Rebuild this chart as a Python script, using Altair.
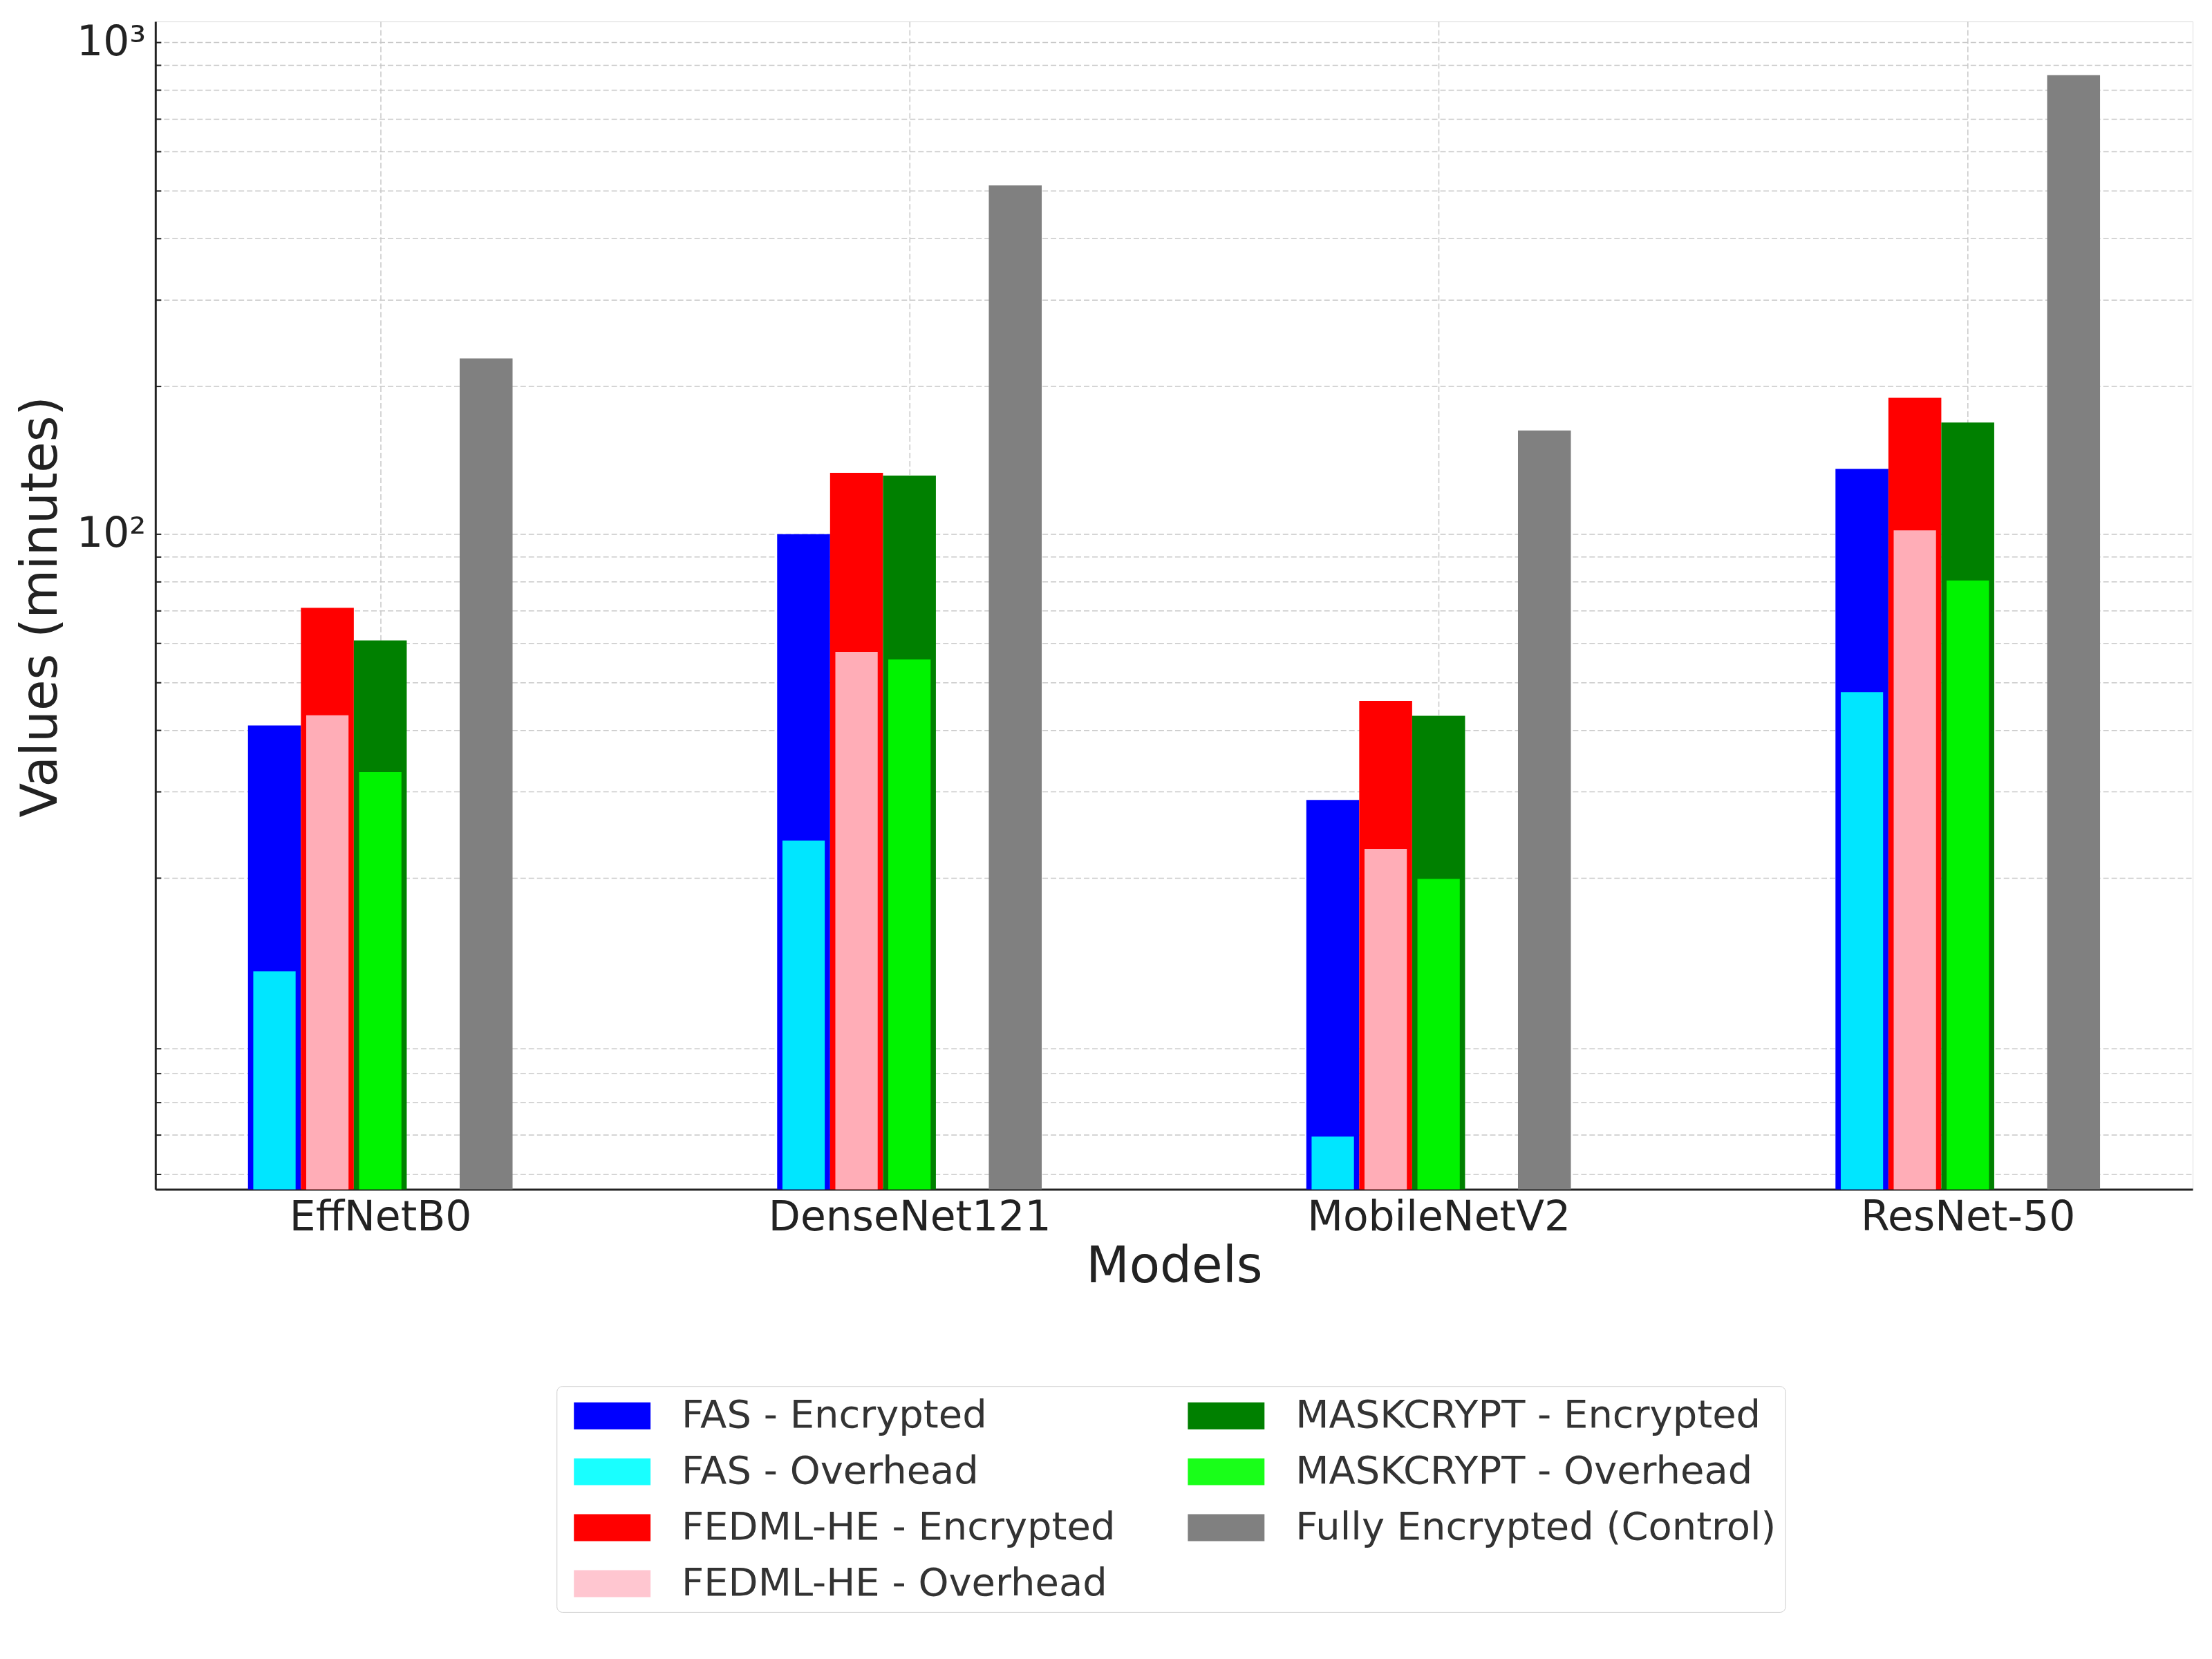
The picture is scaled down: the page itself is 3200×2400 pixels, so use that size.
import altair as alt
import pandas as pd

# ---- data ----
models = ["EffNetB0", "DenseNet121", "MobileNetV2", "ResNet-50"]
fas_encrypted = [40.8, 100.0, 28.8, 135.7]
fas_overhead = [12.9, 23.8, 5.95, 47.7]
fedml_encrypted = [70.8, 133.2, 45.8, 189.3]
fedml_overhead = [42.8, 57.6, 22.9, 101.8]
mask_encrypted = [60.8, 131.5, 42.7, 168.6]
mask_overhead = [32.8, 55.6, 19.9, 80.5]
fully_encrypted = [227.6, 511.7, 162.5, 857.9]

y_tick_values = [5, 6, 7, 8, 9, 20, 30, 40, 50, 60, 70, 80, 90,
                 100, 200, 300, 400, 500, 600, 700, 800, 900, 1000]

# series: name, values, group offset, bar width, opacity (draw order)
series = [
    ("FAS - Encrypted", fas_encrypted, -0.2, 0.1, 1.0),
    ("FAS - Overhead", fas_overhead, -0.2, 0.08, 0.9),
    ("FEDML-HE - Encrypted", fedml_encrypted, -0.1, 0.1, 1.0),
    ("FEDML-HE - Overhead", fedml_overhead, -0.1, 0.08, 0.9),
    ("MASKCRYPT - Encrypted", mask_encrypted, 0.0, 0.1, 1.0),
    ("MASKCRYPT - Overhead", mask_overhead, 0.0, 0.08, 0.9),
    ("Fully Encrypted (Control)", fully_encrypted, 0.2, 0.1, 1.0),
]

legend_order = [s[0] for s in series]
legend_colors = ["#0000ff", "#00ffff", "#ff0000", "#ffc0cb",
                 "#008000", "#00ff00", "#808080"]

rows = []
for name, vals, off, w, op in series:
    for i, m in enumerate(models):
        rows.append({"model": m, "series": name, "value": vals[i],
                     "x0": i + off - w / 2, "x1": i + off + w / 2, "op": op})
df = pd.DataFrame(rows)

Y_MIN, Y_MAX = 4.65, 1103
FONT = "DejaVu Sans"
label_expr = "[" + ",".join("'%s'" % m for m in models) + "][datum.value]"

legend_kw = dict(
    orient="none", legendX=581, legendY=1976, columns=2, title=None,
    symbolType="M-0.6,-0.65L3.1,-0.65L3.1,0.65L-0.6,0.65Z", symbolSize=3600,
    symbolStrokeWidth=0, labelFontSize=56, labelFont=FONT,
    labelColor="#333333", labelOffset=108, columnPadding=92, rowPadding=23,
    padding=13, strokeColor="#cccccc", cornerRadius=8, fillColor="white",
    labelLimit=1200,
    symbolOpacity={"expr": "test(/Overhead/, datum.value) ? 0.9 : 1"},
)

chart = alt.Chart(df).mark_bar(strokeWidth=0).encode(
    x=alt.X("x0:Q",
            scale=alt.Scale(domain=[-0.425, 3.425], nice=False, zero=False),
            axis=alt.Axis(values=[0, 1, 2, 3], labelExpr=label_expr,
                          title="Models", titleFontSize=72.5, titleFont=FONT,
                          titleFontWeight="normal", titleColor="#222222",
                          titleBaseline="alphabetic", titleY=134,
                          labelFontSize=60, labelFont=FONT, labelColor="#222222",
                          labelBaseline="alphabetic", labelPadding=67,
                          labelLimit=1000,
                          tickSize={"expr": "-8"}, tickColor="#222222", tickWidth=2,
                          domainColor="#222222", domainWidth=3,
                          grid=True, gridDash=[8, 4], gridColor="#c8c8c8",
                          gridWidth=1.5)),
    x2="x1:Q",
    y=alt.Y("value:Q", stack=None,
            scale=alt.Scale(type="log", domain=[Y_MIN, Y_MAX], nice=False),
            axis=alt.Axis(values=y_tick_values,
                          labelExpr="datum.value == 100 ? '10²' : datum.value == 1000 ? '10³' : ''",
                          title="Values (minutes)", titleFontSize=72.5, titleFont=FONT,
                          titleFontWeight="normal", titleColor="#222222",
                          titleAngle=270, titleBaseline="alphabetic",
                          titleX=-143, titleY=847,
                          labelFontSize=60, labelFont=FONT, labelColor="#222222",
                          labelPadding=22,
                          tickSize={"expr": "-8"}, tickColor="#222222", tickWidth=2,
                          domainColor="#222222", domainWidth=3,
                          grid=True, gridDash=[8, 4], gridColor="#c8c8c8",
                          gridWidth=1.5)),
    y2=alt.datum(Y_MIN),
    color=alt.Color("series:N",
                    scale=alt.Scale(domain=legend_order, range=legend_colors),
                    legend=alt.Legend(**legend_kw)),
    opacity=alt.Opacity("op:Q", scale=None),
).properties(
    width=2950, height=1691,
    padding={"left": 217, "top": 22, "right": 20, "bottom": 660},
    autosize=alt.AutoSizeParams(type="none"),
).configure_view(stroke=None).configure(background="white", font=FONT)

chart.save("out.html", embed_options={"renderer": "svg", "actions": False})
